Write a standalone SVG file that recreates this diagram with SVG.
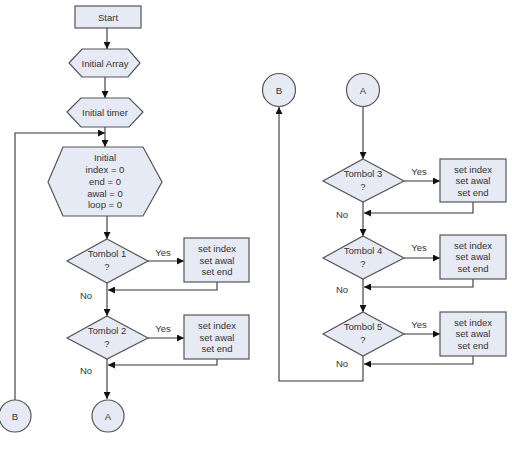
<svg xmlns="http://www.w3.org/2000/svg" width="512" height="453" viewBox="0 0 512 453">
<style>
.s{fill:#e6eaf4;stroke:#555;stroke-width:1.2}
.t{font-family:"Liberation Sans",Arial,sans-serif;font-size:9.5px;fill:#333;text-anchor:middle}
.c{fill:none;stroke:#333;stroke-width:1.1}
</style>
<defs>
<marker id="ar" viewBox="0 0 10 10" refX="10" refY="5" markerWidth="7" markerHeight="7" markerUnits="userSpaceOnUse" orient="auto"><path d="M0,0L10,5L0,10z" fill="#111"/></marker>
</defs>
<rect width="512" height="453" fill="#fff"/>
<g id="connectors" class="c" marker-end="url(#ar)">
<path d="M107,28V49"/>
<path d="M105,77V98"/>
<path d="M105,127V147"/>
<path d="M15,400V133H105"/>
<path d="M107,216V239"/>
<path d="M148,261H184"/>
<path d="M217,282V290H108"/>
<path d="M107,283V316"/>
<path d="M148,338H184"/>
<path d="M217,359V365H108"/>
<path d="M107,359V399"/>
<path d="M363,107V159"/>
<path d="M404,181H440"/>
<path d="M473,202V213H364"/>
<path d="M363,202V236"/>
<path d="M404,258H440"/>
<path d="M473,279V287H364"/>
<path d="M363,279V312"/>
<path d="M404,334H440"/>
<path d="M473,356V364H364"/>
<path d="M363,356V381H279V107"/>
</g>
<g id="start"><rect class="s" x="75" y="6" width="66" height="22"/><text class="t" x="108" y="20.5">Start</text></g>
<g id="initArray"><polygon class="s" points="69,63 82,49 128,49 140,63 128,77 82,77"/><text class="t" x="105" y="66.5">Initial Array</text></g>
<g id="initTimer"><polygon class="s" points="67,112 81,98 129,98 143,112 129,127 81,127"/><text class="t" x="105" y="115.5">Initial timer</text></g>
<g id="initVars"><polygon class="s" points="48,182 63,147 143,147 162,182 143,216 63,216"/>
<text class="t" x="105" y="161">Initial</text><text class="t" x="105" y="173">index = 0</text><text class="t" x="105" y="185">end = 0</text><text class="t" x="105" y="196.5">awal = 0</text><text class="t" x="105" y="208">loop = 0</text></g>
<g id="tombol1"><polygon class="s" points="107,239 148,261 107,283 67,261"/><text class="t" x="107" y="257">Tombol 1</text><text class="t" x="107" y="270">?</text></g>
<g id="set1"><rect class="s" x="184" y="238" width="65" height="44"/><text class="t" x="217" y="252">set index</text><text class="t" x="217" y="263.5">set awal</text><text class="t" x="217" y="275">set end</text></g>
<g id="tombol2"><polygon class="s" points="107,316 148,338 107,359 67,338"/><text class="t" x="107" y="334">Tombol 2</text><text class="t" x="107" y="347">?</text></g>
<g id="set2"><rect class="s" x="184" y="315" width="65" height="44"/><text class="t" x="217" y="329">set index</text><text class="t" x="217" y="340.5">set awal</text><text class="t" x="217" y="352">set end</text></g>
<g id="connA1"><circle class="s" cx="108" cy="416" r="16"/><text class="t" x="108" y="419.5">A</text></g>
<g id="connB1"><circle class="s" cx="15" cy="416" r="16"/><text class="t" x="15" y="419.5">B</text></g>
<g id="connB2"><circle class="s" cx="279" cy="90" r="16.5"/><text class="t" x="279" y="93.5">B</text></g>
<g id="connA2"><circle class="s" cx="363" cy="90" r="16.5"/><text class="t" x="363" y="93.5">A</text></g>
<g id="tombol3"><polygon class="s" points="363,159 404,181 363,202 323,181"/><text class="t" x="363" y="177">Tombol 3</text><text class="t" x="363" y="190">?</text></g>
<g id="set3"><rect class="s" x="440" y="159" width="66" height="43"/><text class="t" x="473" y="172.5">set index</text><text class="t" x="473" y="184">set awal</text><text class="t" x="473" y="195.5">set end</text></g>
<g id="tombol4"><polygon class="s" points="363,236 404,258 363,279 323,258"/><text class="t" x="363" y="254">Tombol 4</text><text class="t" x="363" y="267">?</text></g>
<g id="set4"><rect class="s" x="440" y="235" width="66" height="44"/><text class="t" x="473" y="248.5">set index</text><text class="t" x="473" y="260">set awal</text><text class="t" x="473" y="271.5">set end</text></g>
<g id="tombol5"><polygon class="s" points="363,312 404,334 363,356 323,334"/><text class="t" x="363" y="330">Tombol 5</text><text class="t" x="363" y="343">?</text></g>
<g id="set5"><rect class="s" x="440" y="312" width="66" height="44"/><text class="t" x="473" y="325.5">set index</text><text class="t" x="473" y="337">set awal</text><text class="t" x="473" y="348.5">set end</text></g>
<g id="labels" class="t">
<text x="163" y="256">Yes</text><text x="163" y="332">Yes</text>
<text x="419" y="175">Yes</text><text x="419" y="251">Yes</text><text x="419" y="328">Yes</text>
<text x="86" y="299">No</text><text x="86" y="374">No</text>
<text x="342" y="218">No</text><text x="342" y="293">No</text><text x="342" y="367">No</text>
</g>
</svg>
